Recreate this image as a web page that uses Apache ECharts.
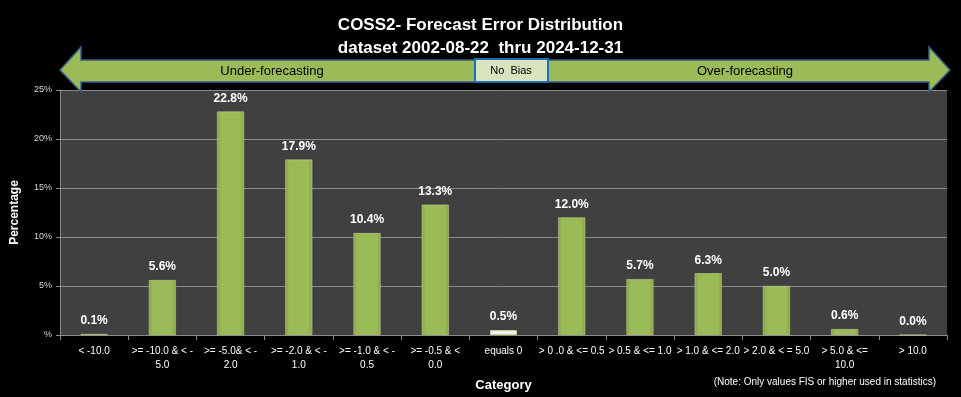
<!DOCTYPE html>
<html>
<head>
<meta charset="utf-8">
<script src="https://cdn.jsdelivr.net/npm/echarts@6/dist/echarts.min.js"></script>
<style>
    html, body { margin: 0; padding: 0; background: #000; }
    #chart { width: 961px; height: 397px; }
</style>
</head>
<body>
<div id="chart"></div>
<script>
    // categories (error ranges) and percentages
    var categories = ['< -10.0', '>= -10.0 & < -\n5.0', '>= -5.0& < -\n2.0', '>= -2.0 & < -\n1.0',
        '>= -1.0 & < -\n0.5', '>= -0.5 & <\n0.0', 'equals 0', '> 0 .0 & <= 0.5', '> 0.5 & <= 1.0',
        '> 1.0 & <= 2.0', '> 2.0 & < = 5.0', '> 5.0 & <=\n10.0', '> 10.0'];
    var percentages = [0.1, 5.6, 22.8, 17.9, 10.4, 13.3, 0.5, 12.0, 5.7, 6.3, 5.0, 0.6, 0.0];
    var yTicks = [0, 5, 10, 15, 20, 25];
    var noBiasIndex = 6;

    var fam = '"Liberation Sans", Arial, sans-serif';

    var green = new echarts.graphic.LinearGradient(0, 0, 1, 0, [
        {offset: 0, color: '#86a447'},
        {offset: 0.15, color: '#9bbb59'},
        {offset: 0.85, color: '#9bbb59'},
        {offset: 1, color: '#86a447'}
    ]);

    var barData = percentages.map(function (v, i) {
        if (i === noBiasIndex) {
            return {value: v, itemStyle: {color: '#f2f2f2', borderColor: '#c3d69b', borderWidth: 1}};
        }
        return {value: v};
    });

    var chart = echarts.init(document.getElementById('chart'));
    var option = {
        backgroundColor: '#000000',
        title: {
            text: 'COSS2- Forecast Error Distribution\ndataset 2002-08-22  thru 2024-12-31',
            left: 'center',
            top: 9,
            textStyle: {
                color: '#ffffff',
                fontFamily: fam,
                fontWeight: 'bold',
                fontSize: 17,
                lineHeight: 23
            }
        },
        grid: {
            left: 60,
            right: 14,
            top: 90,
            bottom: 57,
            show: true,
            backgroundColor: '#404040',
            borderWidth: 0
        },
        xAxis: {
            type: 'category',
            data: categories,
            name: 'Category',
            nameLocation: 'middle',
            nameGap: 44,
            nameTextStyle: {color: '#ffffff', fontWeight: 'bold', fontSize: 13, fontFamily: fam},
            axisLine: {lineStyle: {color: '#8c8c8c'}},
            axisTick: {show: true, length: 5, lineStyle: {color: '#8c8c8c'}},
            axisLabel: {
                interval: 0,
                color: '#ffffff',
                fontSize: 10,
                fontFamily: fam,
                lineHeight: 14,
                margin: 9
            }
        },
        yAxis: {
            type: 'value',
            min: yTicks[0],
            max: yTicks[yTicks.length - 1],
            interval: 5,
            name: 'Percentage',
            nameLocation: 'middle',
            nameGap: 39,
            nameTextStyle: {color: '#ffffff', fontWeight: 'bold', fontSize: 12, fontFamily: fam},
            axisLine: {show: true, lineStyle: {color: '#8c8c8c'}},
            axisTick: {show: true, length: 4, lineStyle: {color: '#8c8c8c'}},
            splitLine: {lineStyle: {color: '#8a8a8a', width: 1}},
            axisLabel: {
                color: '#d9d9d9',
                fontSize: 9,
                fontFamily: fam,
                margin: 8,
                formatter: function (v) { return v === 0 ? '%' : v + '%'; }
            }
        },
        series: [{
            type: 'bar',
            data: barData,
            barWidth: 27,
            itemStyle: {color: green, borderColor: '#c8dc98', borderWidth: 0.5},
            label: {
                show: true,
                position: 'top',
                distance: 7,
                color: '#ffffff',
                fontWeight: 'bold',
                fontSize: 12,
                fontFamily: fam,
                formatter: function (p) { return p.value.toFixed(1) + '%'; }
            }
        }],
        graphic: [
            {   // left arrow: under-forecasting
                type: 'polygon',
                z: 100,
                shape: {points: [[60, 70], [81, 47], [81, 60], [475, 60], [475, 82], [81, 82], [81, 92]]},
                style: {fill: '#9bbb59', stroke: '#385d8a', lineWidth: 1.5}
            },
            {   // right arrow: over-forecasting
                type: 'polygon',
                z: 100,
                shape: {points: [[950, 70], [929, 47], [929, 60], [548, 60], [548, 82], [929, 82], [929, 92]]},
                style: {fill: '#9bbb59', stroke: '#385d8a', lineWidth: 1.5}
            },
            {
                type: 'rect',
                z: 100,
                shape: {x: 475, y: 59, width: 73, height: 23},
                style: {fill: '#d7e4bd', stroke: '#1f6fb5', lineWidth: 2}
            },
            {
                type: 'text', z: 101, x: 272, y: 71,
                style: {text: 'Under-forecasting', fill: '#000000', font: '13px ' + fam, textAlign: 'center', textVerticalAlign: 'middle'}
            },
            {
                type: 'text', z: 101, x: 745, y: 71,
                style: {text: 'Over-forecasting', fill: '#000000', font: '13px ' + fam, textAlign: 'center', textVerticalAlign: 'middle'}
            },
            {
                type: 'text', z: 101, x: 511, y: 71,
                style: {text: 'No  Bias', fill: '#000000', font: '11px ' + fam, textAlign: 'center', textVerticalAlign: 'middle'}
            },
            {
                type: 'text', z: 101, right: 25, top: 377,
                style: {text: '(Note: Only values FIS or higher used in statistics)', fill: '#ffffff', font: '10px ' + fam}
            }
        ]
    };
    chart.setOption(option);
</script>
</body>
</html>
